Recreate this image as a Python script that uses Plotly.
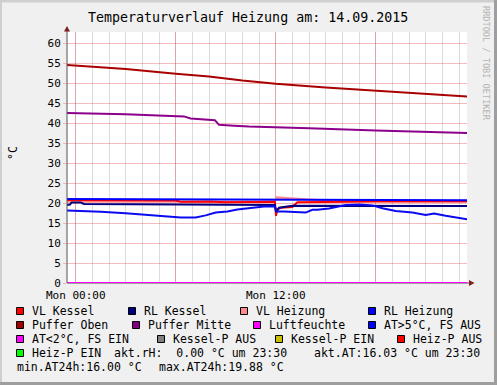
import plotly.graph_objects as go

# ---------------- data (hours relative to Mon 00:00) ----------------
hours_oben = [-0.52, 3, 6, 8, 10, 12, 15, 18, 21, 23.48]
puffer_oben = [54.5, 53.5, 52.3, 51.6, 50.6, 49.8, 48.9, 48.1, 47.3, 46.6]

hours_mitte = [-0.52, 3.0, 6.5, 6.9, 8.35, 8.6, 9.5, 10.4, 14, 18, 23.48]
puffer_mitte = [42.5, 42.2, 41.65, 41.15, 40.7, 39.55, 39.3, 39.1, 38.7, 38.1, 37.5]

hours_vlk = [-0.52, 3, 6.0, 6.3, 8, 9, 11.95, 12.02, 12.1, 12.3, 13.0, 13.3, 18, 23.48]
vl_kessel = [20.75, 20.7, 20.6, 20.3, 20.4, 20.2, 20.3, 16.8, 18.4, 18.8, 19.0, 20.2, 20.4, 20.35]

hours_rlk = [-0.52, -0.35, -0.25, 0.3, 0.5, 6, 11.95, 12.02, 12.2, 13, 23.48]
rl_kessel = [19.5, 19.6, 20.1, 20.1, 19.75, 19.6, 19.5, 17.8, 18.8, 19.3, 19.25]

hours_vlh = [-0.52, 6, 11.95, 12.05, 13, 14, 15.5, 23.48]
vl_heizung = [20.3, 20.3, 20.3, 21.4, 21.1, 20.9, 20.6, 20.5]

hours_rlh = [-0.52, 12, 23.48]
rl_heizung = [21.0, 20.9, 20.7]

hours_rh = [-0.52, 23.48]
luftfeuchte = [0.0, 0.0]

hours_at = [-0.52, 0.3, 1.5, 3, 5, 6.3, 7.2, 7.8, 8.4, 9.1, 9.7, 10.7, 11.3, 11.95,
            12.05, 12.5, 13.0, 13.8, 14.2, 14.5, 15.2, 15.8, 16.2, 17.0, 17.8,
            18.4, 19.2, 20.2, 21.0, 21.5, 22.2, 23.48]
at_temp = [18.1, 18.05, 17.8, 17.45, 16.85, 16.4, 16.4, 16.9, 17.6, 17.9, 18.4, 18.8, 19.1, 19.1,
           17.9, 17.9, 17.8, 17.6, 18.3, 18.3, 18.6, 19.1, 19.5, 19.6, 19.4,
           18.7, 18.0, 17.6, 17.0, 17.4, 16.8, 15.95]

x_range = [-0.522, 23.478]
y_range = [0, 62.75]
x_tickvals = [0, 6, 12, 18]
x_ticktext = ["Mon 00:00", "", "Mon 12:00", ""]
y_tickvals = list(range(0, 61, 5))

legend_labels = [
    ["VL Kessel", "RL Kessel", "VL Heizung", "RL Heizung"],
    ["Puffer Oben", "Puffer Mitte", "Luftfeuchte", "AT>5°C, FS AUS"],
    ["AT<2°C, FS EIN", "Kessel-P AUS", "Kessel-P EIN", "Heiz-P AUS"],
    ["Heiz-P EIN"],
]
legend_colors = [
    ["#FF0000", "#000080", "#FF8C8C", "#0000FF"],
    ["#A00000", "#800080", "#FF00FF", "#0000FF"],
    ["#FF00FF", "#808080", "#C8C000", "#FF0000"],
    ["#00FF00"],
]
comment_row4 = ["akt.rH:\u00a0\u00a00.00 °C um 23:30", "akt.AT:16.03 °C um 23:30"]
comment_row5 = ["min.AT24h:16.00 °C", "max.AT24h:19.88 °C"]
title_text = "Temperaturverlauf Heizung am: 14.09.2015"

# ---------------- layout geometry (pixels) ----------------
W, H = 497, 385
L, R, T, B = 67, 467, 32, 283
PW, PH = R - L, B - T
MONO = "DejaVu Sans Mono"


def px(x):
    return (x - L) / PW


def py(y):
    return (B - y) / PH


fig = go.Figure()

series = [
    (hours_vlh, vl_heizung, "#FF8C8C"),
    (hours_vlk, vl_kessel, "#FF0000"),
    (hours_rlk, rl_kessel, "#000080"),
    (hours_rlh, rl_heizung, "#0000FF"),
    (hours_oben, puffer_oben, "#A80000"),
    (hours_mitte, puffer_mitte, "#8C008C"),
    (hours_rh, luftfeuchte, "#FF00FF"),
    (hours_at, at_temp, "#0A0AF0"),
]
for xs, ys, col in series:
    fig.add_trace(go.Scatter(x=xs, y=ys, mode="lines",
                             line=dict(color=col, width=2), hoverinfo="skip"))

MGRID = "rgba(222,80,80,0.38)"
GRID = "rgba(143,143,143,0.32)"

fig.update_layout(
    width=W, height=H,
    margin=dict(l=L, r=W - R, t=T, b=H - B, pad=0),
    paper_bgcolor="#F0F0F0", plot_bgcolor="#FFFFFF",
    showlegend=False,
    font=dict(family=MONO, size=11, color="#000000"),
    xaxis=dict(range=x_range, tickvals=x_tickvals, ticktext=x_ticktext,
               showgrid=True, gridcolor=MGRID, gridwidth=1, zeroline=False,
               showline=False, ticks="", tickfont=dict(size=11), ticklabelstandoff=4,
               minor=dict(dtick=1, tick0=0, showgrid=True, gridcolor=GRID, gridwidth=1),
               fixedrange=True),
    yaxis=dict(range=y_range, tickvals=y_tickvals, showgrid=True, gridcolor=MGRID,
               gridwidth=1, zeroline=False, showline=False, ticks="outside",
               ticklen=3, tickcolor=MGRID, tickfont=dict(size=11), fixedrange=True),
)

shapes = []
# 3D border
shapes.append(dict(type="rect", xref="paper", yref="paper", x0=px(0), x1=px(W), y0=py(0), y1=py(2.5),
                   fillcolor="#CFCFCF", line=dict(width=0), layer="above"))
shapes.append(dict(type="rect", xref="paper", yref="paper", x0=px(0), x1=px(2), y0=py(0), y1=py(H),
                   fillcolor="#CFCFCF", line=dict(width=0), layer="above"))
shapes.append(dict(type="rect", xref="paper", yref="paper", x0=px(W - 3), x1=px(W), y0=py(0), y1=py(H),
                   fillcolor="#9E9E9E", line=dict(width=0), layer="above"))
shapes.append(dict(type="rect", xref="paper", yref="paper", x0=px(0), x1=px(W), y0=py(H - 3), y1=py(H),
                   fillcolor="#9E9E9E", line=dict(width=0), layer="above"))
# axes
shapes.append(dict(type="line", xref="paper", yref="paper", x0=px(67), x1=px(67), y0=py(283), y1=py(29),
                   line=dict(color="#555555", width=1), layer="above"))
shapes.append(dict(type="line", xref="paper", yref="paper", x0=px(67), x1=px(471), y0=py(283), y1=py(283),
                   line=dict(color="#555555", width=1), layer="below"))
# arrows
shapes.append(dict(type="path", xref="paper", yref="paper",
                   path=f"M {px(67)},{py(26)} L {px(64)},{py(31.5)} L {px(70)},{py(31.5)} Z",
                   fillcolor="#7F1F1F", line=dict(width=0), layer="above"))
shapes.append(dict(type="path", xref="paper", yref="paper",
                   path=f"M {px(474.5)},{py(283)} L {px(469)},{py(280)} L {px(469)},{py(286)} Z",
                   fillcolor="#7F1F1F", line=dict(width=0), layer="above"))

annotations = []


def text(x, y, s, size=11.5, color="#000000", xanchor="left", angle=0):
    annotations.append(dict(xref="paper", yref="paper", x=px(x), y=py(y), text=s,
                            showarrow=False, xanchor=xanchor, yanchor="middle",
                            textangle=angle, borderpad=0,
                            font=dict(family=MONO, size=size, color=color)))


text(248, 17, title_text, size=13.3, xanchor="center")
text(13, 153, "°C", size=11.5, xanchor="center", angle=-90)
text(486, 63, "RRDTOOL / TOBI OETIKER", size=8.6, color="#B4B4B4", xanchor="center", angle=90)

row_y = [311, 325, 339, 353, 367]
square_x = [
    [16, 128, 240, 368],
    [16, 132, 253, 368],
    [16, 157, 275, 397],
    [16],
]
for r, labels in enumerate(legend_labels):
    for c, lab in enumerate(labels):
        sx = square_x[r][c]
        yc = row_y[r]
        shapes.append(dict(type="rect", xref="paper", yref="paper",
                           x0=px(sx + 0.5), x1=px(sx + 7.5), y0=py(yc + 3.5), y1=py(yc - 3.5),
                           fillcolor=legend_colors[r][c], line=dict(color="#000000", width=1),
                           layer="above"))
        text(sx + 14.5, yc, lab)

text(113, row_y[3], comment_row4[0])
text(312.5, row_y[3], comment_row4[1])
text(16, row_y[4], comment_row5[0])
text(158, row_y[4], comment_row5[1])

fig.update_layout(shapes=shapes, annotations=annotations)
fig.write_html("out.html", config={"displayModeBar": False, "staticPlot": True},
               post_script="document.body.style.margin='0px';document.body.style.padding='0px';")
